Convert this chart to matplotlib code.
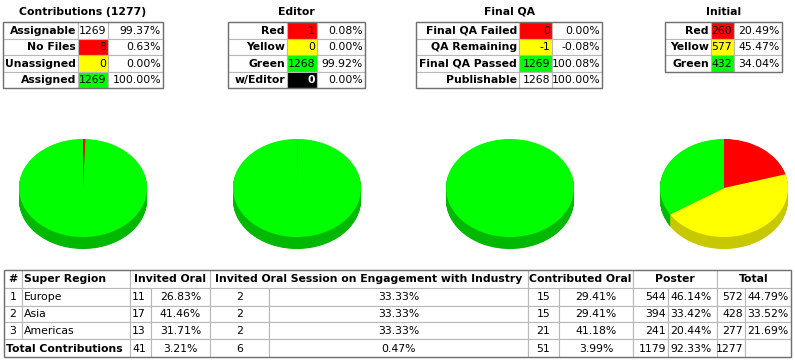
"""
Contribution status dashboard: four small status tables with 3D pies and a region table
"""

import matplotlib.pyplot as plt
from matplotlib.patches import Rectangle

# ---- data ----
contrib_labels = ['Assignable', 'No Files', 'Unassigned', 'Assigned']
contrib_counts = [1269, 8, 0, 1269]
contrib_pcts = [99.37, 0.63, 0.00, 100.00]

editor_labels = ['Red', 'Yellow', 'Green', 'w/Editor']
editor_counts = [1, 0, 1268, 0]
editor_pcts = [0.08, 0.00, 99.92, 0.00]

qa_labels = ['Final QA Failed', 'QA Remaining', 'Final QA Passed', 'Publishable']
qa_counts = [0, -1, 1269, 1268]
qa_pcts = [0.00, -0.08, 100.08, 100.00]

initial_labels = ['Red', 'Yellow', 'Green']
initial_counts = [260, 577, 432]
initial_pcts = [20.49, 45.47, 34.04]

# pie slices (red, yellow, green)
pie_contrib = [8, 0, 1269]
pie_editor = [1, 0, 1268]
pie_qa = [0, -1, 1269]
pie_initial = [260, 577, 432]

regions = ['Europe', 'Asia', 'Americas']
inv_oral = [11, 17, 13]
inv_oral_pct = [26.83, 41.46, 31.71]
session = [2, 2, 2]
session_pct = [33.33, 33.33, 33.33]
contrib_oral = [15, 15, 21]
contrib_oral_pct = [29.41, 29.41, 41.18]
poster = [544, 394, 241]
poster_pct = [46.14, 33.42, 20.44]
total = [572, 428, 277]
total_pct = [44.79, 33.52, 21.69]
totals_row = [41, 3.21, 6, 0.47, 51, 3.99, 1179, 92.33, 1277, None]

RED, YEL, GRN, BLK = '#ff0000', '#ffff00', '#00ff00', '#000000'
RED_D, YEL_D, GRN_D = '#b40000', '#c8c800', '#00b800'

W, H = 795, 362
FS = 7.8
fig = plt.figure(figsize=(W / 100, H / 100), dpi=100)
ax = fig.add_axes([0, 0, 1, 1])
ax.set_xlim(0, W)
ax.set_ylim(H, 0)
ax.axis('off')


def cell(x0, x1, y0, y1, text='', align='left', bold=False, fill='white', color='black'):
    ax.add_patch(Rectangle((x0, y0), x1 - x0, y1 - y0, facecolor=fill,
                           edgecolor='#b8b8b8', linewidth=0.8))
    if text == '':
        return
    if align == 'left':
        tx = x0 + 2
    elif align == 'right':
        tx = x1 - 2
    else:
        tx = (x0 + x1) / 2
    ax.text(tx, (y0 + y1) / 2 + 0.5, text, ha=align, va='center', fontsize=FS,
            fontweight='bold' if bold else 'normal', color=color)


def status_table(title, cols, rows_y, labels, counts, pcts, fills):
    x0, x1, x2, x3 = cols
    ax.text((x0 + x3) / 2, 12, title, ha='center', va='center', fontsize=FS, fontweight='bold')
    for i, (lab, n, p) in enumerate(zip(labels, counts, pcts)):
        y0, y1 = rows_y[i], rows_y[i + 1]
        f = fills[i]
        tc = 'white' if f == BLK else 'black'
        cell(x0, x1, y0, y1, lab, 'right', bold=True)
        cell(x1, x2, y0, y1, str(n), 'right', bold=(f == BLK), fill=f or 'white', color=tc)
        cell(x2, x3, y0, y1, f'{p:.2f}%', 'right')
    ax.add_patch(Rectangle((x0, rows_y[0]), x3 - x0, rows_y[len(labels)] - rows_y[0],
                           fill=False, edgecolor='#707070', linewidth=1))


rows_y = [22, 38.5, 55, 71.5, 88]
status_table('Contributions (1277)', (3, 78, 108, 163), rows_y, contrib_labels,
             contrib_counts, contrib_pcts, [None, RED, YEL, GRN])
status_table('Editor', (228, 287, 317, 365), rows_y, editor_labels,
             editor_counts, editor_pcts, [RED, YEL, GRN, BLK])
status_table('Final QA', (416, 519, 552, 602), rows_y, qa_labels,
             qa_counts, qa_pcts, [RED, YEL, GRN, None])
status_table('Initial', (665, 711, 734, 782), rows_y, initial_labels,
             initial_counts, initial_pcts, [RED, YEL, GRN])

# ---- 3D-looking pies ----
A, B, DEPTH, CY = 64, 49, 12, 188
for cx, vals in zip([83, 297, 510, 724], [pie_contrib, pie_editor, pie_qa, pie_initial]):
    vals = [max(v, 0) for v in vals]
    pax = fig.add_axes([(cx - A) / W, 1 - (CY + B + DEPTH) / H, 2 * A / W, (2 * B + DEPTH) / H])
    d = DEPTH / B
    steps = 24
    for k in range(steps, 0, -1):
        pax.pie(vals, colors=[RED_D, YEL_D, GRN_D], startangle=90, counterclock=False,
                center=(0, -d * k / steps), wedgeprops=dict(linewidth=0))
    pax.pie(vals, colors=[RED, YEL, GRN], startangle=90, counterclock=False,
            wedgeprops=dict(linewidth=0))
    pax.set_aspect('auto')
    pax.set_xlim(-1, 1)
    pax.set_ylim(-1 - d, 1)
    pax.axis('off')

# ---- region table ----
ry = [270, 288, 305.5, 322, 339, 357]
hdr = [(4, 22, '#', 'center'), (22, 130, 'Super Region', 'left'), (130, 210, 'Invited Oral', 'center'),
       (210, 528, 'Invited Oral Session on Engagement with Industry', 'center'),
       (528, 633, 'Contributed Oral', 'center'), (633, 717, 'Poster', 'center'),
       (717, 791, 'Total', 'center')]
for x0, x1, t, al in hdr:
    cell(x0, x1, ry[0], ry[1], t, al, bold=True)

cols = [(130, 151, 'left'), (151, 210, 'center'), (210, 269, 'center'), (269, 528, 'center'),
        (528, 559, 'center'), (559, 633, 'center'), (633, 668, 'right'), (668, 717, 'left'),
        (717, 745, 'right'), (745, 791, 'left')]
for i, reg in enumerate(regions):
    y0, y1 = ry[i + 1], ry[i + 2]
    cell(4, 22, y0, y1, str(i + 1), 'center')
    cell(22, 130, y0, y1, reg, 'left')
    vals = [inv_oral[i], inv_oral_pct[i], session[i], session_pct[i], contrib_oral[i],
            contrib_oral_pct[i], poster[i], poster_pct[i], total[i], total_pct[i]]
    for j, ((x0, x1, al), v) in enumerate(zip(cols, vals)):
        cell(x0, x1, y0, y1, f'{v:.2f}%' if j % 2 else str(v), al)

y0, y1 = ry[4], ry[5]
cell(4, 130, y0, y1, 'Total Contributions', 'left', bold=True)
for j, ((x0, x1, al), v) in enumerate(zip(cols, totals_row)):
    txt = '' if v is None else (f'{v:.2f}%' if j % 2 else str(v))
    cell(x0, x1, y0, y1, txt, al)
ax.add_patch(Rectangle((4, ry[0]), 787, ry[-1] - ry[0], fill=False, edgecolor='#707070', linewidth=1))

fig.savefig('out.png', dpi=100)
plt.close(fig)
